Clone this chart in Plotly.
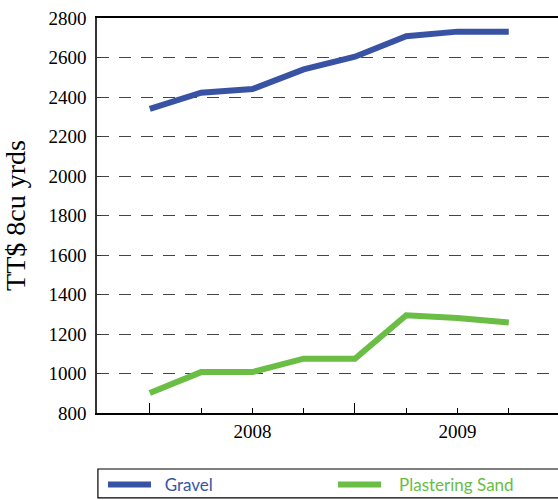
import plotly.graph_objects as go

quarters = [0, 1, 2, 3, 4, 5, 6, 7]
gravel = [2340, 2422, 2440, 2540, 2604, 2708, 2731, 2731]
plastering_sand = [901, 1007, 1007, 1075, 1075, 1295, 1281, 1258]
year_ticks = [2, 6]
year_labels = ["2008", "2009"]
year_starts = [0, 4]
quarter_ticks = [1, 2, 3, 5, 6, 7]
y_ticks = [800, 1000, 1200, 1400, 1600, 1800, 2000, 2200, 2400, 2600, 2800]

BLUE = "#3953A4"
GREEN = "#6ABD45"
SERIF = "Times New Roman, Liberation Serif, serif"
SANS = "Lato"

fig = go.Figure()
fig.add_trace(go.Scatter(x=quarters, y=gravel, mode="lines",
                         name=f"<span style='color:{BLUE}'>&nbsp;&nbsp;Gravel</span>",
                         line=dict(color=BLUE, width=6), xaxis="x2", legend="legend"))
fig.add_trace(go.Scatter(x=quarters, y=plastering_sand, mode="lines",
                         name=f"<span style='color:{GREEN}'>&nbsp;&nbsp;&nbsp;Plastering Sand</span>",
                         line=dict(color=GREEN, width=6), legend="legend2"))

legend_common = dict(orientation="h", xanchor="left", y=-0.182, yanchor="middle",
                     itemwidth=43, font=dict(family=SANS, size=17, color="black"),
                     bgcolor="rgba(0,0,0,0)", borderwidth=0)

xr = [-1.03, 7.96]
fig.update_layout(
    width=558, height=500,
    margin=dict(l=97, r=0, t=18, b=87, autoexpand=False),
    paper_bgcolor="white", plot_bgcolor="white",
    font=dict(family=SERIF, size=19, color="black"),
    showlegend=True,
    xaxis=dict(range=xr, showgrid=False, zeroline=False,
               showline=True, linecolor="black", linewidth=1.5, mirror=True,
               tickvals=year_ticks, ticktext=year_labels,
               ticks="", ticklabelstandoff=0,
               minor=dict(tickvals=quarter_ticks, ticks="inside", ticklen=5,
                          tickcolor="black", tickwidth=1, showgrid=False),
               tickfont=dict(family=SERIF, size=19, color="black")),
    xaxis2=dict(matches="x", overlaying="x", anchor="y", side="bottom",
                showgrid=False, zeroline=False, showline=False,
                tickvals=year_starts, ticktext=["", ""],
                ticks="inside", ticklen=10, tickcolor="black", tickwidth=1),
    yaxis=dict(range=[800, 2800], tickvals=y_ticks, zeroline=False,
               showline=True, linecolor="#333", linewidth=1.5,
               showgrid=True, gridcolor="#444", gridwidth=1.3, griddash="12px,10px",
               ticks="inside", ticklen=4, tickcolor="#333",
               ticklabelstandoff=5,
               tickfont=dict(family=SERIF, size=19, color="black"),
               title=dict(text="TT$ 8cu yrds", font=dict(family=SERIF, size=28, color="black"),
                          standoff=16),
               automargin=False),
    legend=dict(x=0.013, **legend_common),
    legend2=dict(x=0.512, **legend_common),
    shapes=[dict(type="rect", xref="paper", yref="paper",
                 x0=0.002, x1=1.05, y0=-0.215, y1=-0.1418,
                 line=dict(color="black", width=1.2), fillcolor="rgba(0,0,0,0)", layer="below")],
)

fig.write_html("out.html", config={"displayModeBar": False},
               post_script="document.body.style.margin='0';document.body.style.overflow='hidden';")
